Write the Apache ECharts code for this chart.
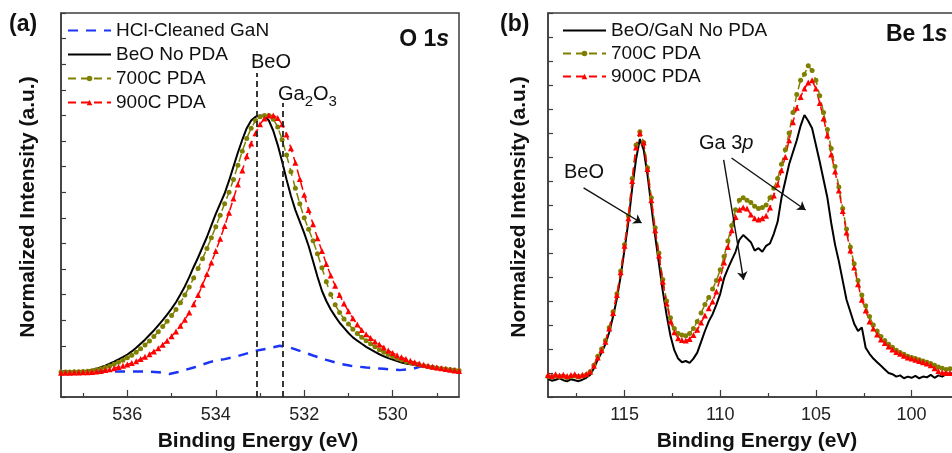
<!DOCTYPE html>
<html>
<head>
<meta charset="utf-8">
<script src="https://cdn.jsdelivr.net/npm/echarts@6/dist/echarts.min.js"></script>
<style>
html, body { margin: 0; padding: 0; background: #fff; }
#main { width: 952px; height: 453px; }
</style>
</head>
<body>
<div id="main"></div>
<script>
// ---- panel (a): O 1s ----
// binding energy grid, 537.5 -> 528.5 eV, 0.1 eV steps
const energyA = Array.from({ length: 91 }, (_, i) => +(537.5 - i * 0.1).toFixed(1));
const o1sNoPda = [
  0.98, 0.98, 0.99, 0.99, 1.00, 1.01,
  1.03, 1.06, 1.10, 1.16, 1.22, 1.30, 1.38, 1.47, 1.56, 1.66,
  1.78, 1.92, 2.08, 2.24, 2.42, 2.60, 2.80, 3.00, 3.22, 3.45,
  3.70, 4.00, 4.32, 4.68, 5.08, 5.45, 5.85, 6.25, 6.70, 7.15,
  7.55, 7.95, 8.45, 9.00, 9.55, 10.05, 10.50, 10.80, 10.95, 11.00,
  10.98, 10.80, 10.40, 9.85, 9.20, 8.50, 7.85, 7.30, 6.85, 6.40,
  5.90, 5.30, 4.70, 4.15, 3.75, 3.42, 3.15, 2.90, 2.70, 2.50,
  2.33, 2.20, 2.08, 1.96, 1.86, 1.76, 1.67, 1.59, 1.52, 1.46,
  1.40, 1.35, 1.31, 1.28, 1.25, 1.22, 1.20, 1.18, 1.16, 1.14,
  1.12, 1.10, 1.08, 1.06, 1.05
];
const o1s700 = [
  0.98, 0.98, 0.98, 0.99, 0.99, 1.00,
  1.01, 1.03, 1.06, 1.10, 1.15, 1.21, 1.28, 1.36, 1.44, 1.53,
  1.63, 1.75, 1.88, 2.03, 2.19, 2.36, 2.55, 2.75, 2.96, 3.18,
  3.42, 3.68, 3.98, 4.30, 4.65, 5.02, 5.40, 5.80, 6.22, 6.65,
  7.10, 7.55, 8.00, 8.50, 9.05, 9.60, 10.10, 10.50, 10.80, 10.95,
  11.00, 11.00, 10.85, 10.55, 10.05, 9.45, 8.80, 8.15, 7.55, 7.00,
  6.55, 6.10, 5.60, 5.05, 4.50, 4.00, 3.60, 3.30, 3.05, 2.85,
  2.65, 2.48, 2.33, 2.20, 2.08, 1.96, 1.85, 1.75, 1.66, 1.58,
  1.51, 1.45, 1.39, 1.34, 1.30, 1.26, 1.22, 1.19, 1.16, 1.13,
  1.11, 1.09, 1.07, 1.05, 1.04
];
const o1s900 = [
  0.95, 0.95, 0.95, 0.96, 0.96, 0.97,
  0.97, 0.98, 1.00, 1.02, 1.05, 1.08, 1.12, 1.17, 1.22, 1.27,
  1.33, 1.40, 1.48, 1.57, 1.67, 1.78, 1.90, 2.04, 2.20, 2.37,
  2.56, 2.78, 3.02, 3.30, 3.62, 3.98, 4.38, 4.80, 5.25, 5.70,
  6.18, 6.68, 7.20, 7.75, 8.30, 8.85, 9.40, 9.90, 10.30, 10.65,
  10.88, 11.00, 11.00, 10.90, 10.65, 10.25, 9.72, 9.15, 8.52, 7.90,
  7.30, 6.75, 6.20, 5.70, 5.20, 4.75, 4.35, 3.98, 3.65, 3.35,
  3.08, 2.83, 2.62, 2.45, 2.30, 2.17, 2.05, 1.93, 1.82, 1.72,
  1.63, 1.55, 1.48, 1.42, 1.36, 1.31, 1.26, 1.22, 1.18, 1.15,
  1.12, 1.09, 1.06, 1.04, 1.02
];
const hclEnergy = [537.5, 537.0, 536.5, 536.0, 535.6, 535.3, 535.05, 534.85, 534.5, 534.1,
  533.8, 533.5, 533.2, 533.0, 532.8, 532.55, 532.3, 532.1, 531.8, 531.5,
  531.2, 530.95, 530.6, 530.2, 529.85, 529.55, 529.25, 529.0, 528.8, 528.5];
const hclO1s = [1.0, 1.0, 1.0, 1.0, 1.0, 0.97, 0.9, 0.98, 1.15, 1.38,
  1.48, 1.6, 1.75, 1.84, 1.9, 2.0, 1.92, 1.8, 1.62, 1.45,
  1.3, 1.22, 1.15, 1.1, 1.05, 1.1, 1.25, 1.15, 1.05, 1.0];
const refLinesA = [533.07, 532.48];   // BeO, Ga2O3
const refTopsA = [12.66, 11.48];
const labelTicksA = [530, 532, 534, 536];
const minorTicksA = [529, 531, 533, 535, 537];

// ---- panel (b): Be 1s ----
// binding energy grid, 119.0 -> 97.6 eV, 0.2 eV steps
const energyB = Array.from({ length: 108 }, (_, i) => +(119 - i * 0.2).toFixed(1));
const be1sNoPda = [
  0.75, 0.68, 0.72, 0.78, 0.70, 0.65, 0.74, 0.70, 0.66, 0.72, 0.80,
  0.92, 1.20, 1.55, 1.85, 2.20, 2.70, 3.35, 4.10, 5.05, 6.15,
  7.30, 8.70, 9.90, 10.75, 10.30, 9.25, 7.95, 6.70, 5.55, 4.40,
  3.40, 2.55, 1.95, 1.60, 1.45, 1.50, 1.42, 1.60, 1.85, 2.30,
  2.75, 3.15, 3.45, 3.85, 4.30, 4.95, 5.35, 5.70, 6.05, 6.55,
  6.75, 6.60, 6.45, 6.10, 6.20, 6.05, 6.30, 6.40, 6.80, 7.30,
  8.30, 9.00, 9.70, 10.20, 10.70, 11.30, 11.75, 11.50, 11.20, 10.50,
  9.80, 9.05, 8.30, 7.25, 6.35, 5.65, 4.85, 4.05, 3.55, 3.05,
  2.75, 2.90, 2.05, 1.80, 1.60, 1.45, 1.30, 1.15, 1.00, 0.95,
  0.85, 0.90, 0.78, 0.85, 0.80, 0.88, 0.78, 0.85, 0.82, 0.92,
  0.80, 0.90, 0.85, 0.95, 0.98, 1.00, 1.00
];
const be1s700 = [
  0.85, 0.82, 0.88, 0.84, 0.86, 0.80, 0.85, 0.88, 0.83, 0.87, 0.92,
  1.05, 1.32, 1.70, 2.00, 2.35, 2.90, 3.55, 4.30, 5.25, 6.35,
  7.55, 9.10, 10.50, 11.05, 10.60, 9.55, 8.30, 7.05, 6.00, 4.90,
  4.00, 3.30, 2.85, 2.65, 2.58, 2.55, 2.65, 2.85, 3.15, 3.50,
  3.85, 4.15, 4.50, 4.85, 5.30, 5.85, 6.50, 7.15, 7.80, 8.20,
  8.30, 8.20, 8.10, 7.95, 7.85, 7.90, 8.00, 8.30, 8.70, 9.10,
  9.70, 10.30, 11.00, 11.85, 12.60, 13.20, 13.45, 13.80, 13.60, 13.20,
  12.55, 11.85, 11.15, 10.35, 9.60, 8.75, 7.85, 7.00, 6.25, 5.55,
  4.85, 4.25, 3.80, 3.35, 3.00, 2.75, 2.52, 2.35, 2.20, 2.07,
  1.95, 1.85, 1.78, 1.70, 1.65, 1.60, 1.55, 1.50, 1.45, 1.40,
  1.32, 1.25, 1.20, 1.15, 1.18, 1.20, 1.20
];
const be1s900 = [
  0.92, 0.88, 0.95, 0.90, 0.93, 0.87, 0.92, 0.95, 0.89, 0.93, 0.96,
  1.05, 1.30, 1.65, 1.95, 2.30, 2.85, 3.50, 4.25, 5.20, 6.30,
  7.45, 9.00, 10.40, 11.00, 10.60, 9.50, 8.20, 6.95, 5.90, 4.80,
  3.90, 3.15, 2.70, 2.45, 2.38, 2.35, 2.42, 2.58, 2.80, 3.10,
  3.40, 3.70, 3.98, 4.40, 4.95, 5.60, 6.25, 6.95, 7.50, 7.80,
  7.90, 7.85, 7.60, 7.45, 7.40, 7.45, 7.55, 7.90, 8.40, 8.85,
  9.45, 10.00, 10.70, 11.45, 12.05, 12.50, 12.85, 13.10, 13.20, 12.85,
  12.25, 11.60, 10.90, 10.10, 9.40, 8.60, 7.75, 6.85, 6.10, 5.40,
  4.70, 4.05, 3.60, 3.15, 2.85, 2.60, 2.40, 2.25, 2.10, 1.98,
  1.88, 1.80, 1.72, 1.65, 1.60, 1.55, 1.50, 1.45, 1.40, 1.32,
  1.20, 1.08, 1.02, 1.00, 1.00, 1.00, 1.00
];
const labelTicksB = [100, 105, 110, 115];
const minorTicksB = [97.5, 102.5, 107.5, 112.5, 117.5];
// arrow annotations [from, to] in data coords
const arrowsB = [
  [[117.14, 8.71], [114.11, 7.25]],
  [[109.82, 9.88], [108.78, 4.88]],
  [[109.41, 9.96], [105.54, 7.79]]
];

const FONT = 'Arial, "Liberation Sans", sans-serif';
const AXIS_COLOR = '#3c3c3c';
const OLIVE = '#808000';
const RED = '#ff0000';

const pairs = (xs, ys) => xs.map((x, i) => [x, ys[i]]);

function xAxes(grid, min, max, labels, minors) {
  return [{
    gridIndex: grid, type: 'value', min: min, max: max, inverse: true,
    axisLine: { show: true, lineStyle: { color: AXIS_COLOR, width: 1.5 } },
    axisTick: { show: true, inside: true, length: 7, customValues: labels, lineStyle: { color: AXIS_COLOR, width: 1.2 } },
    axisLabel: { customValues: labels, fontSize: 18, color: '#222', fontFamily: FONT, margin: 9 },
    splitLine: { show: false }
  }, {
    gridIndex: grid, type: 'value', min: min, max: max, inverse: true, position: 'bottom',
    axisLine: { show: false },
    axisTick: { show: true, inside: true, length: 4, customValues: minors, lineStyle: { color: AXIS_COLOR, width: 1.2 } },
    axisLabel: { show: false },
    splitLine: { show: false }
  }];
}

function yAxis(grid, max) {
  return {
    gridIndex: grid, type: 'value', min: 0, max: max, interval: 1,
    axisLine: { show: true, lineStyle: { color: AXIS_COLOR, width: 1.5 } },
    axisTick: { show: true, inside: true, length: 5, lineStyle: { color: AXIS_COLOR, width: 1.2 } },
    axisLabel: { show: false },
    splitLine: { show: false }
  };
}

function text(x, y, str, size, extra) {
  return {
    type: 'text', x: x, y: y, silent: true,
    style: Object.assign({ text: str, fontSize: size, fontFamily: FONT, fill: '#111', align: 'left', verticalAlign: 'middle' }, extra || {})
  };
}

// plain-line legend entries (hide the default marker)
const noMarker = name => ({ name: name, itemStyle: { opacity: 0 } });

const chart = echarts.init(document.getElementById('main'), null, { renderer: 'canvas' });

chart.setOption({
  animation: false,
  backgroundColor: '#fff',
  grid: [
    { left: 61, top: 13, width: 398, height: 384, show: true, borderColor: AXIS_COLOR, borderWidth: 1.5, outerBoundsMode: 'none', containLabel: false },
    { left: 548, top: 13, width: 421, height: 384, show: true, borderColor: AXIS_COLOR, borderWidth: 1.5, outerBoundsMode: 'none', containLabel: false }
  ],
  xAxis: xAxes(0, 528.5, 537.5, labelTicksA, minorTicksA).concat(xAxes(1, 97, 119, labelTicksB, minorTicksB)),
  yAxis: [yAxis(0, 15), yAxis(1, 16)],
  legend: [{
    data: [noMarker('HCl-Cleaned GaN'), noMarker('BeO No PDA'), '700C PDA', '900C PDA'],
    orient: 'vertical', left: 62, top: 16, itemWidth: 43, itemHeight: 7, itemGap: 5,
    textStyle: { fontSize: 19, color: '#111', fontFamily: FONT }
  }, {
    data: [noMarker('BeO/GaN No PDA'), '700C PDA', '900C PDA'],
    orient: 'vertical', left: 557, top: 16, itemWidth: 43, itemHeight: 7, itemGap: 4,
    textStyle: { fontSize: 19, color: '#111', fontFamily: FONT }
  }],
  series: [
    {
      name: 'HCl-Cleaned GaN', type: 'line', xAxisIndex: 0, yAxisIndex: 0,
      data: pairs(hclEnergy, hclO1s), symbol: 'none', color: '#1c34f5',
      lineStyle: { width: 2.5, type: [10, 8] },
      markLine: {
        silent: true, symbol: 'none', label: { show: false },
        lineStyle: { color: '#222', type: [6, 4], width: 1.8 },
        data: refLinesA.map((e, i) => [{ coord: [e, 0] }, { coord: [e, refTopsA[i]] }])
      }
    },
    {
      name: 'BeO No PDA', type: 'line', xAxisIndex: 0, yAxisIndex: 0,
      data: pairs(energyA, o1sNoPda), symbol: 'none', color: '#000',
      lineStyle: { width: 2 }
    },
    {
      name: '700C PDA', type: 'line', xAxisIndex: 0, yAxisIndex: 0,
      data: pairs(energyA, o1s700), symbol: 'circle', symbolSize: 5, color: OLIVE,
      lineStyle: { width: 1.5, type: [8, 5] }
    },
    {
      name: '900C PDA', type: 'line', xAxisIndex: 0, yAxisIndex: 0,
      data: pairs(energyA, o1s900), symbol: 'triangle', symbolSize: 6, color: RED,
      lineStyle: { width: 1.5, type: [8, 5] }
    },
    {
      name: 'BeO/GaN No PDA', type: 'line', xAxisIndex: 2, yAxisIndex: 1,
      data: pairs(energyB, be1sNoPda), symbol: 'none', color: '#000',
      lineStyle: { width: 2 },
      markLine: {
        silent: true, symbol: ['none', 'arrow'], symbolSize: 8, label: { show: false },
        lineStyle: { color: '#111', type: 'solid', width: 1.4 },
        data: arrowsB.map(a => [{ coord: a[0] }, { coord: a[1] }])
      }
    },
    {
      name: '700C PDA', type: 'line', xAxisIndex: 2, yAxisIndex: 1,
      data: pairs(energyB, be1s700), symbol: 'circle', symbolSize: 5, color: OLIVE,
      lineStyle: { width: 1.5, type: [8, 5] }
    },
    {
      name: '900C PDA', type: 'line', xAxisIndex: 2, yAxisIndex: 1,
      data: pairs(energyB, be1s900), symbol: 'triangle', symbolSize: 6, color: RED,
      lineStyle: { width: 1.5, type: [8, 5] }
    }
  ],
  graphic: [
    text(9, 25, '(a)', 23, { fontWeight: 'bold' }),
    text(500, 25, '(b)', 23, { fontWeight: 'bold' }),
    {
      type: 'text', x: 449, y: 40, silent: true,
      style: {
        text: '{a|O 1}{b|s}', align: 'right', verticalAlign: 'middle', fontFamily: FONT,
        rich: {
          a: { fontSize: 23, fontWeight: 'bold', fontFamily: FONT, fill: '#111' },
          b: { fontSize: 23, fontWeight: 'bold', fontStyle: 'italic', fontFamily: FONT, fill: '#111' }
        }
      }
    },
    {
      type: 'text', x: 886, y: 35, silent: true,
      style: {
        text: '{a|Be 1}{b|s}', align: 'left', verticalAlign: 'middle', fontFamily: FONT,
        rich: {
          a: { fontSize: 23, fontWeight: 'bold', fontFamily: FONT, fill: '#111' },
          b: { fontSize: 23, fontWeight: 'bold', fontStyle: 'italic', fontFamily: FONT, fill: '#111' }
        }
      }
    },
    text(251, 62, 'BeO', 20),
    {
      type: 'text', x: 278, y: 94, silent: true,
      style: {
        text: '{n|Ga}{s|2}{n|O}{s|3}', align: 'left', verticalAlign: 'middle', fontFamily: FONT,
        rich: {
          n: { fontSize: 20, fontFamily: FONT, fill: '#111', lineHeight: 30, verticalAlign: 'middle' },
          s: { fontSize: 15, fontFamily: FONT, fill: '#111', lineHeight: 30, verticalAlign: 'bottom' }
        }
      }
    },
    text(564, 172, 'BeO', 20),
    {
      type: 'text', x: 699, y: 143, silent: true,
      style: {
        text: '{n|Ga 3}{i|p}', align: 'left', verticalAlign: 'middle', fontFamily: FONT,
        rich: {
          n: { fontSize: 20, fontFamily: FONT, fill: '#111' },
          i: { fontSize: 20, fontStyle: 'italic', fontFamily: FONT, fill: '#111' }
        }
      }
    },
    text(258, 441, 'Binding Energy (eV)', 21, { fontWeight: 'bold', align: 'center' }),
    text(757, 441, 'Binding Energy (eV)', 21, { fontWeight: 'bold', align: 'center' }),
    {
      type: 'text', x: 28, y: 207, rotation: Math.PI / 2, silent: true,
      style: { text: 'Normalized Intensity (a.u.)', fontSize: 21, fontWeight: 'bold', fontFamily: FONT, fill: '#111', align: 'center', verticalAlign: 'middle' }
    },
    {
      type: 'text', x: 519, y: 207, rotation: Math.PI / 2, silent: true,
      style: { text: 'Normalized Intensity (a.u.)', fontSize: 21, fontWeight: 'bold', fontFamily: FONT, fill: '#111', align: 'center', verticalAlign: 'middle' }
    }
  ]
});
</script>
</body>
</html>
